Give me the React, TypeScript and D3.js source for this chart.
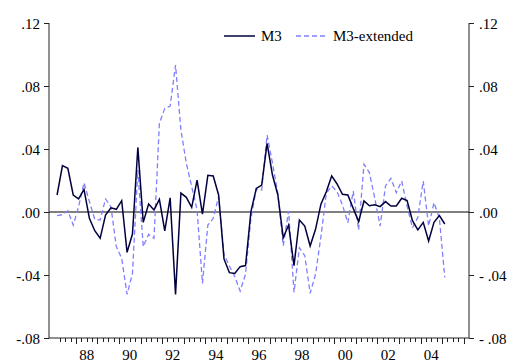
import React, { useEffect, useRef } from "react";
import * as d3 from "d3";

// quarterly growth rates, 1987Q1 .. 2005Q1
const startYear = 1987;
const m3 = [
  0.0108, 0.0294, 0.0277, 0.0108, 0.0083, 0.0144, -0.004, -0.0119, -0.0167, -0.0019,
  0.0027, 0.0017, 0.0072, -0.0256, -0.014, 0.041, -0.0066, 0.0051, 0.0013, 0.008,
  -0.012, 0.009, -0.0523, 0.012, 0.0093, 0.003, 0.0203, -0.0013, 0.0233, 0.0229,
  0.0108, -0.0298, -0.0385, -0.039, -0.0347, -0.034, 0.0002, 0.015, 0.0171, 0.0436,
  0.0235, 0.0108, -0.0163, -0.0083, -0.034, -0.0051, -0.0089, -0.0216, -0.011, 0.005,
  0.0129, 0.0229, 0.0178, 0.0112, 0.0108, 0.0023, -0.0061, 0.007, 0.004, 0.0046,
  0.0034, 0.0066, 0.0038, 0.0038, 0.0087, 0.0072, -0.0055, -0.0114, -0.0066, -0.0184,
  -0.0066, -0.0023, -0.0076,
];
const m3ext = [
  -0.0023, -0.0017, 0.0008, -0.0083, 0.0034, 0.0186, 0.0066, -0.0046, -0.0051, 0.0083,
  0.0034, -0.022, -0.0294, -0.0523, -0.039, 0.0267, -0.022, -0.0142, -0.0167, 0.0563,
  0.0658, 0.0673, 0.0933, 0.052, 0.031, 0.0161, 0.0013, -0.0453, -0.0083, -0.004,
  0.0097, -0.0269, -0.0343, -0.041, -0.0502, -0.0394, -0.004, 0.0146, 0.014, 0.0489,
  0.031, 0.0119, -0.0214, 0.0006, -0.051, -0.0227, -0.0277, -0.0516, -0.0395, -0.0157,
  0.0119, 0.0165, 0.0129, 0.0044, -0.0068, 0.0133, -0.0114, 0.0303, 0.025, 0.0087,
  -0.0089, 0.0167, 0.0214, 0.0123, 0.0197, 0.0038, -0.01, -0.0034, 0.0197, -0.0089,
  0.0059, -0.004, -0.0415,
];
const yTicks = [-0.08, -0.04, 0, 0.04, 0.08, 0.12];
const yearLabels = [1988, 1990, 1992, 1994, 1996, 1998, 2000, 2002, 2004];
const seriesNames = ["M3", "M3-extended"];

const W = 509, H = 362;
const left = 49, right = 469, top = 23, bottom = 338;
const font = "'Liberation Serif', 'Times New Roman', serif";

const fmt = (v: number, side: string) => {
  if (v === 0) return ".00";
  const s = Math.abs(v).toFixed(2).replace(/^0/, "");
  return v < 0 ? (side === "right" ? "- " + s : "-" + s) : s;
};

export default function App() {
  const ref = useRef<SVGSVGElement>(null);

  useEffect(() => {
    const svg = d3.select(ref.current);
    svg.selectAll("*").remove();

    const x = d3.scaleLinear().domain([1986.75, 2006.25]).range([left, right]);
    const y = d3.scaleLinear().domain([-0.08, 0.12]).range([bottom, top]);
    const t = (i: number) => startYear + i / 4 + 0.125;

    // axes frame
    svg.append("line").attr("x1", left).attr("x2", left).attr("y1", top).attr("y2", bottom)
      .attr("stroke", "#222").attr("stroke-width", 1);
    svg.append("line").attr("x1", right).attr("x2", right).attr("y1", top).attr("y2", bottom)
      .attr("stroke", "#222").attr("stroke-width", 1);
    svg.append("line").attr("x1", left).attr("x2", right).attr("y1", bottom).attr("y2", bottom)
      .attr("stroke", "#222").attr("stroke-width", 1);

    // y ticks both sides
    yTicks.forEach(v => {
      const yy = Math.round(y(v)) + 0.5;
      svg.append("line").attr("x1", left - 5).attr("x2", left).attr("y1", yy).attr("y2", yy)
        .attr("stroke", "#222");
      svg.append("line").attr("x1", right).attr("x2", right + 5).attr("y1", yy).attr("y2", yy)
        .attr("stroke", "#222");
      svg.append("text").attr("x", left - 9).attr("y", yy + 5).attr("text-anchor", "end")
        .style("font-family", font).style("font-size", "15px").text(fmt(v, "left"));
      svg.append("text").attr("x", right + 10).attr("y", yy + 5).attr("text-anchor", "start")
        .style("font-family", font).style("font-size", "15px").text(fmt(v, "right"));
    });

    // x ticks: quarterly minor, yearly major
    d3.range(1987.25, 2006.01, 0.25).forEach(q => {
      const major = Math.abs(q - Math.round(q)) < 1e-6;
      const xx = Math.round(x(q)) + 0.5;
      svg.append("line").attr("x1", xx).attr("x2", xx).attr("y1", bottom)
        .attr("y2", bottom + (major ? 6 : 4)).attr("stroke", "#222");
    });
    yearLabels.forEach(yr => {
      svg.append("text").attr("x", x(yr + 0.5)).attr("y", 360).attr("text-anchor", "middle")
        .style("font-family", font).style("font-size", "15px")
        .text(String(yr % 100).padStart(2, "0"));
    });

    // zero line
    svg.append("line").attr("x1", left).attr("x2", right).attr("y1", y(0)).attr("y2", y(0))
      .attr("stroke", "#000").attr("stroke-width", 1.2);

    const line = d3.line<number>().x((_, i) => x(t(i))).y(d => y(d));

    svg.append("path").datum(m3ext).attr("d", line).attr("fill", "none")
      .attr("stroke", "#7f7fff").attr("stroke-width", 1.3).attr("stroke-dasharray", "5,3");
    svg.append("path").datum(m3).attr("d", line).attr("fill", "none")
      .attr("stroke", "#00003f").attr("stroke-width", 1.5);

    // legend
    svg.append("line").attr("x1", 224).attr("x2", 255).attr("y1", 36).attr("y2", 36)
      .attr("stroke", "#00003f").attr("stroke-width", 1.5);
    svg.append("text").attr("x", 261).attr("y", 41).style("font-family", font)
      .style("font-size", "15px").text(seriesNames[0]);
    svg.append("line").attr("x1", 296).attr("x2", 327).attr("y1", 36).attr("y2", 36)
      .attr("stroke", "#7f7fff").attr("stroke-width", 1.3).attr("stroke-dasharray", "5,3");
    svg.append("text").attr("x", 333).attr("y", 41).style("font-family", font)
      .style("font-size", "15px").text(seriesNames[1]);
  }, []);

  return (
    <svg ref={ref} width={W} height={H}
      style={{ position: "absolute", left: 0, top: 0, background: "#fff" }} />
  );
}
